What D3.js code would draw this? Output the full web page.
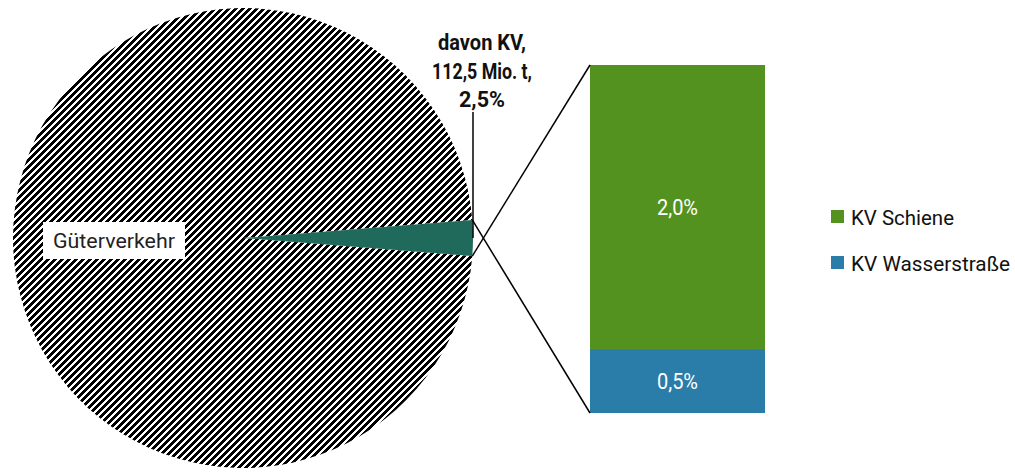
<!DOCTYPE html>
<html>
<head>
<meta charset="utf-8">
<script src="https://cdn.jsdelivr.net/npm/d3@7"></script>
<style>
  html, body { margin: 0; padding: 0; background: #fff; }
  svg text { font-family: Roboto, 'Liberation Sans', sans-serif; }
</style>
</head>
<body>
<svg id="chart" width="1015" height="472"></svg>
<script>
// ---- data ----
const pieCategories = ["Güterverkehr", "davon KV"];
const pieValues = [97.5, 2.5];
const kvLabelLines = ["davon KV,", "112,5 Mio. t,", "2,5%"];
const barCategories = ["KV Schiene", "KV Wasserstraße"];
const barValues = [2.04, 0.46];
const barLabels = ["2,0%", "0,5%"];

// ---- styles / layout ----
const colors = { kv: "#1f6a5b", schiene: "#54921f", wasser: "#2a7ca9" };
// rendered widths of the narrow reference face (style only)
const textWidths = {
  "davon KV,": 88, "112,5 Mio. t,": 100, "2,5%": 46,
  "Güterverkehr": 122, "KV Schiene": 103, "KV Wasserstraße": 159,
  "2,0%": 41, "0,5%": 41
};
const svg = d3.select("#chart");
const cx = 243, cy = 238, R = 230;

function fitWidth(sel) {
  sel.each(function () {
    const t = d3.select(this).text();
    if (textWidths[t]) d3.select(this).attr("textLength", textWidths[t]).attr("lengthAdjust", "spacingAndGlyphs");
  });
}

// crisp pixel hatch "/" with a 7px period
const tile = 7, ink = 4;
const defs = svg.append("defs");
const pat = defs.append("pattern")
  .attr("id", "hatch").attr("patternUnits", "userSpaceOnUse")
  .attr("width", tile).attr("height", tile);
pat.append("rect").attr("width", tile).attr("height", tile).attr("fill", "#fff");
const cells = [];
for (let r = 0; r < tile; r++) for (let k = 0; k < ink; k++) cells.push([(tile - 1 - r + k) % tile, r]);
pat.selectAll("rect.px").data(cells).join("rect").attr("class", "px")
  .attr("x", d => d[0]).attr("y", d => d[1]).attr("width", 1).attr("height", 1)
  .attr("fill", "#000").attr("shape-rendering", "crispEdges");

const kvSpan = 2 * Math.PI * pieValues[1] / d3.sum(pieValues);
const pie = d3.pie().sort(null)
  .startAngle(Math.PI / 2 + kvSpan / 2)
  .endAngle(Math.PI / 2 + kvSpan / 2 + 2 * Math.PI);
const arcs = pie(pieValues);
const arc = d3.arc().innerRadius(0).outerRadius(R);

const g = svg.append("g").attr("transform", `translate(${cx},${cy})`);
g.selectAll("path").data(arcs).join("path")
  .attr("d", arc)
  .attr("fill", (d, i) => i === 0 ? "url(#hatch)" : colors.kv);

// ---- bar ----
const total = d3.sum(barValues);
const y = d3.scaleLinear().domain([0, total]).range([413, 65]);
const x = d3.scaleBand().domain(["KV"]).range([590, 765]).padding(0);
const stackOrdered = [
  { cat: barCategories[1], y0: 0, y1: barValues[1], label: barLabels[1], color: colors.wasser },
  { cat: barCategories[0], y0: barValues[1], y1: total, label: barLabels[0], color: colors.schiene }
];
svg.selectAll("rect.bar").data(stackOrdered).join("rect")
  .attr("class", "bar")
  .attr("x", x("KV")).attr("width", x.bandwidth())
  .attr("y", d => y(d.y1)).attr("height", d => y(d.y0) - y(d.y1))
  .attr("fill", d => d.color);
svg.selectAll("text.barlabel").data(stackOrdered).join("text")
  .attr("class", "barlabel")
  .attr("x", x("KV") + x.bandwidth() / 2)
  .attr("y", d => (y(d.y0) + y(d.y1)) / 2)
  .attr("dy", "0.36em")
  .attr("text-anchor", "middle")
  .attr("fill", "#fff").attr("font-size", 22)
  .text(d => d.label)
  .call(fitWidth);

// ---- connector lines ----
const kvArc = arcs[1];
const pt = a => [cx + R * Math.sin(a), cy - R * Math.cos(a)];
const pTop = pt(kvArc.endAngle), pBot = pt(kvArc.startAngle);
svg.append("line").attr("x1", pTop[0]).attr("y1", pTop[1])
  .attr("x2", x("KV")).attr("y2", y(total))
  .attr("stroke", "#000").attr("stroke-width", 1.5);
svg.append("line").attr("x1", pBot[0]).attr("y1", pBot[1])
  .attr("x2", x("KV")).attr("y2", y(0))
  .attr("stroke", "#000").attr("stroke-width", 1.5);

// ---- KV label + leader ----
const leadX = cx + R * Math.sin(Math.PI / 2);
svg.append("line").attr("x1", leadX).attr("x2", leadX)
  .attr("y1", 112).attr("y2", cy)
  .attr("stroke", "#000").attr("stroke-width", 1.5);
svg.append("g").selectAll("text").data(kvLabelLines).join("text")
  .attr("x", 482).attr("y", (d, i) => 50 + i * 28.5)
  .attr("text-anchor", "middle").attr("font-weight", "bold")
  .attr("font-size", 22.5).attr("fill", "#111")
  .text(d => d)
  .call(fitWidth);

// ---- Güterverkehr label ----
const gl = svg.append("g");
gl.append("rect").attr("x", 43).attr("y", 222).attr("width", 142).attr("height", 37).attr("fill", "#fff");
gl.append("text").attr("x", 114).attr("y", 248).attr("text-anchor", "middle")
  .attr("font-size", 21).attr("fill", "#222").text(pieCategories[0])
  .call(fitWidth);

// ---- legend ----
const legend = svg.append("g");
const legendColors = [colors.schiene, colors.wasser];
const li = legend.selectAll("g").data(barCategories).join("g")
  .attr("transform", (d, i) => `translate(831,${210 + i * 46})`);
li.append("rect").attr("width", 13).attr("height", 13).attr("fill", (d, i) => legendColors[i]);
li.append("text").attr("x", 20).attr("y", 15).attr("font-size", 20.5).attr("fill", "#111").text(d => d)
  .call(fitWidth);
</script>
</body>
</html>
